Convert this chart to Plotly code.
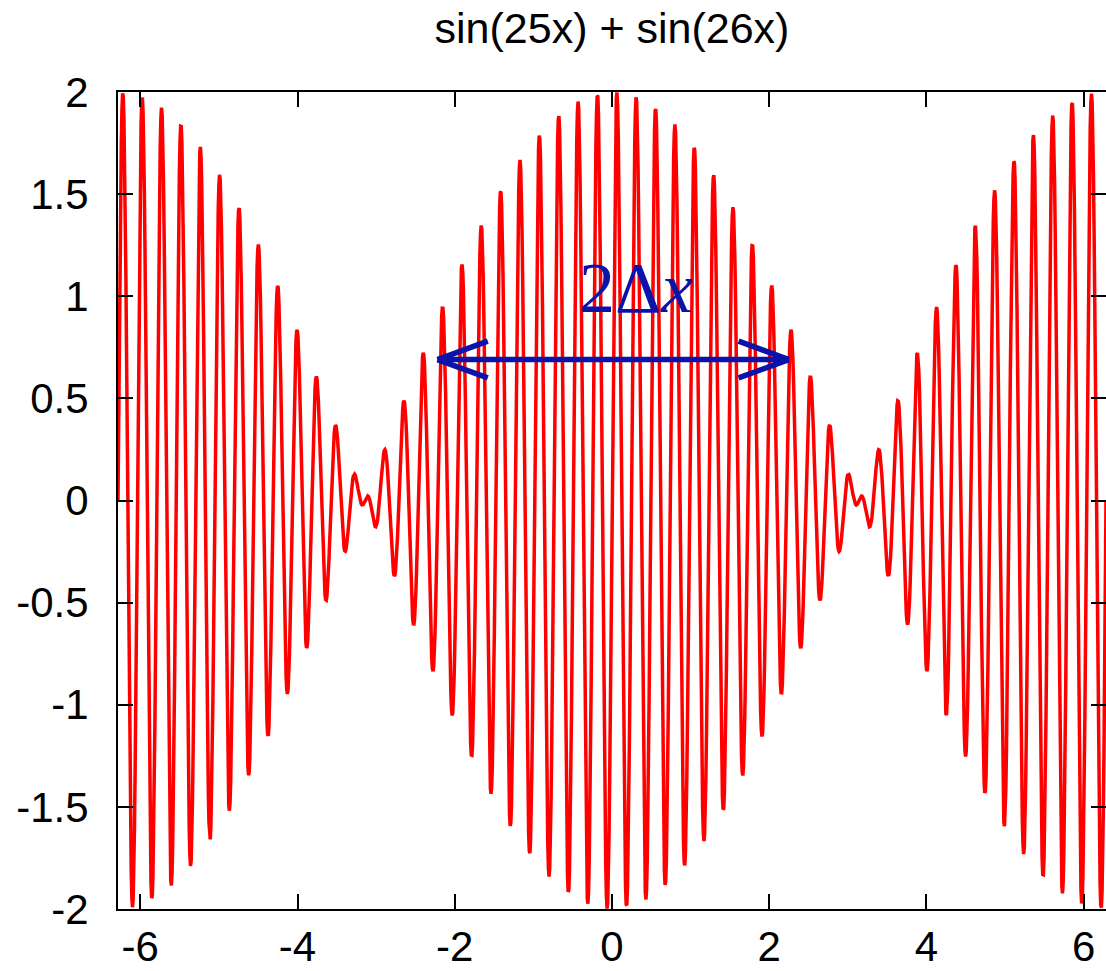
import numpy as np
import plotly.graph_objects as go

# Beat signal sin(25x) + sin(26x) sampled over one full envelope period
freq_a = 25
freq_b = 26
x_min, x_max = -2 * np.pi, 2 * np.pi
n_samples = 1500
x = np.linspace(x_min, x_max, n_samples)
y = np.sin(freq_a * x) + np.sin(freq_b * x)

# Double-headed arrow marking the span 2Δx
arrow_x = [-2.22, 2.25]
arrow_y = 0.69
label_pos = (0.31, 1.04)
label_text = "2Δ<i>x</i>"

x_ticks = [-6, -4, -2, 0, 2, 4, 6]
x_tick_text = ["-6", "-4", "-2", "0", "2", "4", "6"]
y_ticks = [-2, -1.5, -1, -0.5, 0, 0.5, 1, 1.5, 2]
y_tick_text = ["-2", "-1.5", "-1", "-0.5", "0", "0.5", "1", "1.5", "2"]

blue = "#0a14aa"

fig = go.Figure()
fig.add_trace(go.Scatter(
    x=x, y=y, mode="lines",
    line=dict(color="#ff0000", width=3.5),
    showlegend=False, hoverinfo="skip",
))

# shaft and open arrow heads
head_dx = 0.64
head_dy = 0.09
shapes = [
    dict(type="line", x0=arrow_x[0], y0=arrow_y, x1=arrow_x[1], y1=arrow_y),
    dict(type="line", x0=arrow_x[0], y0=arrow_y, x1=arrow_x[0] + head_dx, y1=arrow_y + head_dy),
    dict(type="line", x0=arrow_x[0], y0=arrow_y, x1=arrow_x[0] + head_dx, y1=arrow_y - head_dy),
    dict(type="line", x0=arrow_x[1], y0=arrow_y, x1=arrow_x[1] - head_dx, y1=arrow_y + head_dy),
    dict(type="line", x0=arrow_x[1], y0=arrow_y, x1=arrow_x[1] - head_dx, y1=arrow_y - head_dy),
]
for s in shapes:
    s.update(xref="x", yref="y", line=dict(color=blue, width=5.5))
fig.update_layout(shapes=shapes)

fig.add_annotation(
    x=label_pos[0], y=label_pos[1], xref="x", yref="y",
    text=label_text, showarrow=False,
    font=dict(family="Liberation Serif", size=72, color=blue),
)

fig.update_layout(
    width=1106, height=971,
    margin=dict(l=118, r=0, t=92, b=62),
    paper_bgcolor="white", plot_bgcolor="white",
    title=dict(
        text="sin(25x) + sin(26x)",
        x=(118 + 1106) / 2 / 1106, xanchor="center",
        y=1 - 28 / 971, yanchor="middle", yref="container",
        font=dict(family="Liberation Sans", size=43, color="black"),
    ),
    font=dict(family="Liberation Sans", size=42, color="black"),
)
fig.update_xaxes(
    range=[x_min, x_max], tickvals=x_ticks, ticktext=x_tick_text,
    ticks="inside", ticklen=15, tickwidth=1.5, tickcolor="black",
    showline=True, linecolor="black", linewidth=2, mirror="ticks",
    showgrid=False, zeroline=False, ticklabelstandoff=0, automargin=False,
)
fig.update_yaxes(
    range=[-2, 2], tickvals=y_ticks, ticktext=y_tick_text,
    ticks="inside", ticklen=15, tickwidth=1.5, tickcolor="black",
    showline=True, linecolor="black", linewidth=2, mirror="ticks",
    showgrid=False, zeroline=False, ticklabelstandoff=19, automargin=False,
)

fig.write_html("out.html")
